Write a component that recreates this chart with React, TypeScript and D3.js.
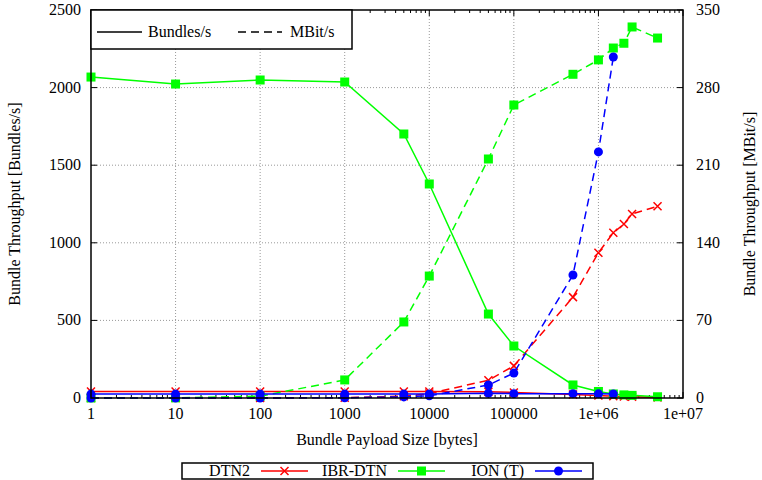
import React from "react";
import * as d3 from "d3";

const sizes = [1, 10, 100, 1000, 5000, 10000, 50000, 100000, 500000, 1000000, 1500000, 2000000, 2500000, 5000000];
const ionSizes = [1, 10, 100, 1000, 5000, 10000, 50000, 100000, 500000, 1000000, 1500000];

const dtn2Bundles = [42, 42, 42, 42, 42, 42, 40, 36, 23, 16, 12, 10, 8, 4];
const dtn2Mbit = [0, 0, 0.03, 0.3, 1.6, 4.0, 16, 29, 91, 131, 149, 157, 166, 173];
const ibrBundles = [2068, 2023, 2049, 2036, 1701, 1379, 541, 335, 84, 42, 26, 20, 17, 8];
const ibrMbit = [0.02, 0.16, 1.6, 16.3, 68.6, 110, 215.6, 264.3, 292, 305, 315.7, 320, 334.7, 324.7];
const ionBundles = [25, 25, 25, 25, 25, 25, 30, 28, 28, 27, 26];
const ionMbit = [0, 0, 0.02, 0.2, 1, 2, 11.7, 22.5, 111, 222, 307.6];

const xTicks = [1, 10, 100, 1000, 10000, 100000, 1000000, 10000000];
const xTickLabels = ["1", "10", "100", "1000", "10000", "100000", "1e+06", "1e+07"];
const yLeftTicks = [0, 500, 1000, 1500, 2000, 2500];
const yRightTicks = [0, 70, 140, 210, 280, 350];

const TF = { fontFamily: "Liberation Serif", fontSize: 16, fill: "#000" };

const L = 91, R = 683, T = 10, B = 398;

export default function App() {
  const x = d3.scaleLog().domain([1, 1e7]).range([L, R]);
  const yL = d3.scaleLinear().domain([0, 2500]).range([B, T]);
  const yR = d3.scaleLinear().domain([0, 350]).range([B, T]);

  const series = [
    { name: "DTN2", color: "#ff0000", marker: "x", xs: sizes, b: dtn2Bundles, m: dtn2Mbit },
    { name: "IBR-DTN", color: "#00ff00", marker: "sq", xs: sizes, b: ibrBundles, m: ibrMbit },
    { name: "ION (T)", color: "#0000ff", marker: "o", xs: ionSizes, b: ionBundles, m: ionMbit },
  ];

  const lineL = (xs: number[], ys: number[]) =>
    d3.line<number>().x((_, i) => x(xs[i])).y((d) => yL(d))(ys) || "";
  const lineR = (xs: number[], ys: number[]) =>
    d3.line<number>().x((_, i) => x(xs[i])).y((d) => yR(d))(ys) || "";

  const marker = (type: string, cx: number, cy: number, color: string, key: string) => {
    if (type === "x") {
      const s = 4;
      return (
        <path key={key} d={`M${cx - s},${cy - s}L${cx + s},${cy + s}M${cx - s},${cy + s}L${cx + s},${cy - s}`} stroke={color} strokeWidth={1.5} fill="none" />
      );
    }
    if (type === "sq") {
      const s = 4.5;
      return <rect key={key} x={cx - s} y={cy - s} width={2 * s} height={2 * s} fill={color} />;
    }
    return <circle key={key} cx={cx} cy={cy} r={4.5} fill={color} />;
  };

  const minor: number[] = [];
  for (let e = 0; e < 7; e++) for (let k = 2; k <= 9; k++) minor.push(k * Math.pow(10, e));

  return (
    <svg width={762} height={480} style={{ position: "absolute", left: 0, top: 0 }}>
      <rect x={0} y={0} width={762} height={480} fill="#fff" />
      {xTicks.slice(1, -1).map((t) => (
        <line key={"gx" + t} x1={x(t)} x2={x(t)} y1={T} y2={B} stroke="#999" strokeWidth={1} strokeDasharray="1,2" />
      ))}
      {yLeftTicks.slice(1, -1).map((t) => (
        <line key={"gy" + t} x1={L} x2={R} y1={yL(t)} y2={yL(t)} stroke="#999" strokeWidth={1} strokeDasharray="1,2" />
      ))}
      {xTicks.map((t) => (
        <g key={"xt" + t}>
          <line x1={x(t)} x2={x(t)} y1={B} y2={B - 6} stroke="#000" />
          <line x1={x(t)} x2={x(t)} y1={T} y2={T + 6} stroke="#000" />
        </g>
      ))}
      {minor.map((t) => (
        <g key={"xm" + t}>
          <line x1={x(t)} x2={x(t)} y1={B} y2={B - 3} stroke="#000" />
          <line x1={x(t)} x2={x(t)} y1={T} y2={T + 3} stroke="#000" />
        </g>
      ))}
      {yLeftTicks.map((t) => (
        <line key={"ylt" + t} x1={L} x2={L + 6} y1={yL(t)} y2={yL(t)} stroke="#000" />
      ))}
      {yRightTicks.map((t) => (
        <line key={"yrt" + t} x1={R} x2={R - 6} y1={yR(t)} y2={yR(t)} stroke="#000" />
      ))}
      {xTicks.map((t, i) => (
        <text key={"xl" + t} {...TF} x={x(t)} y={419} textAnchor="middle">{xTickLabels[i]}</text>
      ))}
      {yLeftTicks.map((t) => (
        <text key={"yll" + t} {...TF} x={81} y={yL(t) + 5} textAnchor="end">{t}</text>
      ))}
      {yRightTicks.map((t) => (
        <text key={"yrl" + t} {...TF} x={696} y={yR(t) + 5} textAnchor="start">{t}</text>
      ))}
      <text {...TF} x={(L + R) / 2} y={445} textAnchor="middle">Bundle Payload Size [bytes]</text>
      <text {...TF} transform={`translate(20,${(T + B) / 2}) rotate(-90)`} textAnchor="middle">Bundle Throughput [Bundles/s]</text>
      <text {...TF} transform={`translate(755,${(T + B) / 2}) rotate(-90)`} textAnchor="middle">Bundle Throughput [MBit/s]</text>
      {series.map((s) => (
        <g key={s.name}>
          <path d={lineL(s.xs, s.b)} stroke={s.color} strokeWidth={1.5} fill="none" />
          <path d={lineR(s.xs, s.m)} stroke={s.color} strokeWidth={1.5} fill="none" strokeDasharray="8,5" />
          {s.xs.map((v, i) => marker(s.marker, x(v), yL(s.b[i]), s.color, s.name + "b" + i))}
          {s.xs.map((v, i) => marker(s.marker, x(v), yR(s.m[i]), s.color, s.name + "m" + i))}
        </g>
      ))}
      <rect x={L} y={T} width={R - L} height={B - T} fill="none" stroke="#000" strokeWidth={1.5} />
      <rect x={L} y={T} width={352 - L} height={39} fill="#fff" stroke="#000" strokeWidth={1.5} />
      <line x1={97} x2={142} y1={32} y2={32} stroke="#000" strokeWidth={1.5} />
      <text {...TF} x={148} y={37}>Bundles/s</text>
      <line x1={238} x2={282} y1={32} y2={32} stroke="#000" strokeWidth={1.5} strokeDasharray="8,5" />
      <text {...TF} x={290} y={37}>MBit/s</text>
      <rect x={182} y={463} width={411} height={16} fill="#fff" stroke="#000" strokeWidth={1.5} />
      {series.map((s, i) => {
        const textEnd = [250, 387, 524][i];
        const x1 = textEnd + 11, x2 = textEnd + 58;
        return (
          <g key={"lg" + s.name}>
            <text {...TF} x={textEnd} y={476} textAnchor="end">{s.name}</text>
            <line x1={x1} x2={x2} y1={471} y2={471} stroke={s.color} strokeWidth={1.5} />
            {marker(s.marker, (x1 + x2) / 2, 471, s.color, "lm" + i)}
          </g>
        );
      })}
    </svg>
  );
}
